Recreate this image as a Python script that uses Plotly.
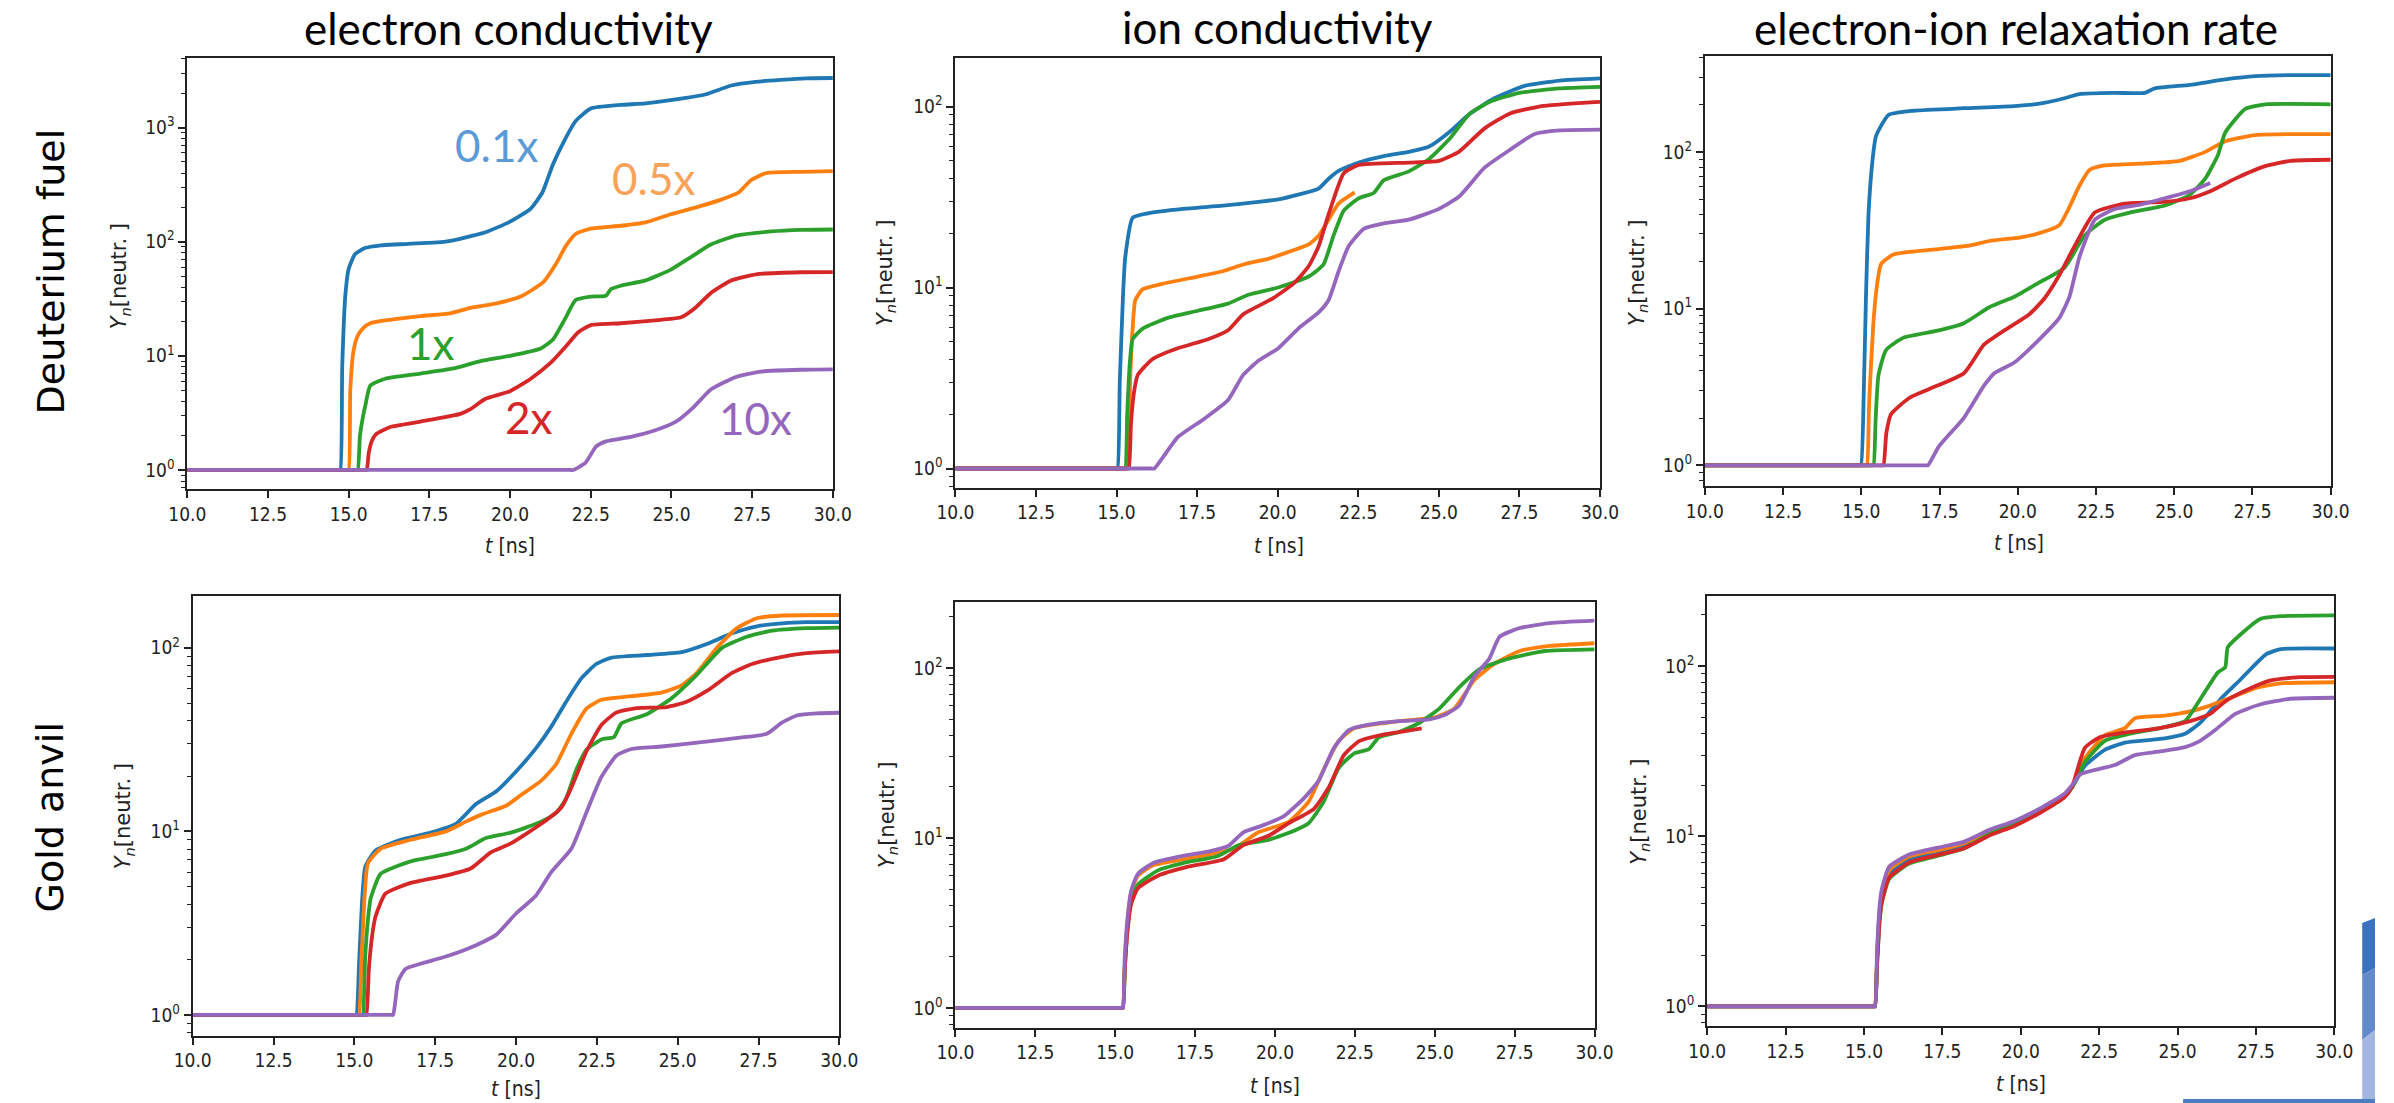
import math
import plotly.graph_objects as go

W, H = 2394, 1103

# ---------------- data ----------------
SERIES_NAMES = ["0.1x", "0.5x", "1x", "2x", "10x"]
COLORS = ["#1f77b4", "#ff7f0e", "#2ca02c", "#d62728", "#9467bd"]
COL_TITLES = ["electron conductivity", "ion conductivity", "electron-ion relaxation rate"]
ROW_TITLES = ["Deuterium fuel", "Gold anvil"]
X_TICKS = [10.0, 12.5, 15.0, 17.5, 20.0, 22.5, 25.0, 27.5, 30.0]
X_TICK_TEXT = ["10.0", "12.5", "15.0", "17.5", "20.0", "22.5", "25.0", "27.5", "30.0"]

# Panel 1: electron conductivity, Deuterium fuel
t_ecd_01 = [10, 14.69, 14.74, 14.8, 14.9, 15.0, 15.2, 15.5, 16.0, 16.6, 18.0, 19.24, 20.0, 20.64, 21.0, 21.33, 21.65, 22.03, 22.5, 23.43, 24.2, 25.45, 26.07, 26.85, 27.6, 29.15, 30]
y_ecd_01 = [1, 1, 1, 8, 35, 58, 78, 88, 93, 95, 100, 121, 150, 195, 270, 478, 740, 1140, 1470, 1580, 1630, 1820, 1960, 2340, 2520, 2700, 2720]
t_ecd_05 = [10, 14.95, 15.0, 15.05, 15.15, 15.28, 15.45, 15.67, 16.29, 17.22, 18.15, 18.77, 19.55, 20.33, 21.03, 21.41, 21.72, 22.03, 22.5, 23.43, 24.2, 24.98, 25.76, 26.54, 27.08, 27.47, 27.94, 29.0, 30]
y_ecd_05 = [1, 1, 1, 5, 11, 15, 17.5, 19.3, 20.7, 22.3, 23.6, 26.3, 28.7, 33.1, 44.2, 63, 91, 117, 130, 138, 148, 174, 200, 234, 270, 347, 400, 410, 415]
t_ecd_1 = [10, 15.23, 15.28, 15.35, 15.45, 15.51, 15.67, 16.13, 17.22, 18.3, 19.08, 20.0, 20.95, 21.33, 21.72, 22.03, 22.5, 22.97, 23.12, 23.43, 24.2, 24.98, 25.6, 26.22, 27.0, 28.09, 29.0, 30]
y_ecd_1 = [1, 1, 1, 2, 3, 3.6, 5.5, 6.3, 7.0, 7.8, 9.0, 10, 11.6, 13.9, 21.5, 30.8, 33, 33.6, 38.3, 41.1, 45.8, 56.9, 73.3, 94.4, 113, 123, 127, 128]
t_ecd_2 = [10, 15.51, 15.56, 15.62, 15.72, 15.85, 16.29, 17.22, 18.46, 18.77, 19.24, 20.0, 20.64, 21.26, 21.72, 22.11, 22.5, 23.43, 24.67, 25.3, 25.76, 26.22, 26.85, 27.62, 29.0, 30]
y_ecd_2 = [1, 1, 1, 1.4, 1.8, 2.06, 2.38, 2.65, 3.1, 3.41, 4.2, 4.9, 6.3, 8.7, 12.0, 16.1, 18.6, 19.3, 20.7, 21.8, 26.7, 35.6, 45.8, 51.8, 54, 54.2]
t_ecd_10 = [10, 21.86, 21.96, 22.34, 22.66, 22.97, 23.74, 24.52, 25.14, 25.68, 26.22, 27.0, 27.78, 29.0, 30]
y_ecd_10 = [1, 1, 1, 1.16, 1.6, 1.78, 1.95, 2.24, 2.65, 3.54, 5.07, 6.53, 7.28, 7.55, 7.6]

# Panel 2: ion conductivity, Deuterium fuel
t_icd_01 = [10, 14.98, 15.03, 15.1, 15.2, 15.27, 15.5, 15.97, 17.06, 18.3, 19.4, 20.02, 20.64, 21.27, 21.58, 21.89, 22.51, 23.29, 24.07, 24.7, 25.32, 25.94, 26.72, 27.66, 28.75, 30]
y_icd_01 = [1, 1, 1, 3, 9, 14.7, 24.3, 25.7, 27.2, 28.3, 29.7, 30.7, 32.6, 35.2, 39.9, 44.1, 49, 53.2, 56.2, 60.1, 72.1, 90.5, 111, 130, 139, 143]
t_icd_05 = [10, 15.3, 15.35, 15.42, 15.5, 15.58, 15.81, 16.44, 17.53, 18.3, 18.93, 19.7, 20.33, 20.96, 21.27, 21.58, 21.89, 22.39]
y_icd_05 = [1, 1, 1, 3, 6, 8.5, 9.78, 10.5, 11.5, 12.3, 13.4, 14.4, 15.7, 17.3, 19.3, 23.7, 29.1, 33.5]
t_icd_1 = [10, 15.22, 15.27, 15.33, 15.42, 15.5, 15.81, 16.59, 17.53, 18.46, 19.09, 20.02, 20.96, 21.42, 21.73, 22.05, 22.51, 22.98, 23.29, 24.07, 24.7, 25.32, 25.94, 26.57, 27.5, 28.75, 30]
y_icd_1 = [1, 1, 1, 2, 4, 5.18, 5.93, 6.8, 7.44, 8.15, 9.12, 10, 11.5, 13.4, 19.3, 26.6, 31.1, 33.3, 39.1, 43.8, 51.3, 65.9, 90.5, 106, 119, 126, 128.5]
t_icd_2 = [10, 15.33, 15.38, 15.45, 15.55, 15.66, 16.12, 16.9, 17.84, 18.46, 18.93, 19.86, 20.49, 20.96, 21.27, 21.58, 22.05, 22.51, 24.07, 25.0, 25.63, 26.41, 27.19, 28.12, 29.2, 30]
y_icd_2 = [1, 1, 1, 1.8, 2.7, 3.29, 4.03, 4.62, 5.18, 5.8, 7.11, 8.73, 10.5, 13.1, 16.9, 25.4, 42.8, 47.5, 49, 50.1, 56.3, 75.5, 91.3, 100, 104, 106]
t_icd_10 = [10, 16.07, 16.17, 16.9, 17.68, 18.46, 18.93, 19.4, 20.02, 20.64, 21.27, 21.58, 21.89, 22.2, 22.67, 23.29, 24.07, 25.0, 25.63, 26.41, 27.19, 27.97, 28.75, 30]
y_icd_10 = [1, 1, 1, 1.49, 1.86, 2.39, 3.29, 3.94, 4.62, 5.93, 7.28, 8.53, 12.3, 16.9, 21.1, 22.6, 23.7, 27.2, 31.8, 45.8, 57.4, 70.5, 73.8, 74.5]

# Panel 3: electron-ion relaxation rate, Deuterium fuel
t_erd_01 = [10, 14.94, 14.99, 15.08, 15.15, 15.23, 15.35, 15.47, 15.87, 16.68, 18.28, 19.89, 20.69, 21.49, 21.97, 23.1, 24.06, 24.38, 25.5, 26.63, 27.59, 28.72, 30]
y_erd_01 = [1, 1, 1, 3, 12, 39.9, 85, 126, 172, 183, 190, 196, 203, 220, 234, 238, 238, 254, 268, 290, 304, 309, 309]
t_erd_05 = [10, 15.13, 15.18, 15.25, 15.39, 15.5, 15.63, 16.04, 17.48, 18.44, 19.09, 20.05, 20.69, 21.33, 21.65, 21.97, 22.3, 22.78, 23.9, 25.18, 25.99, 26.63, 27.59, 30]
y_erd_05 = [1, 1, 1, 2.5, 8.28, 14, 19.2, 22.2, 24, 25.2, 27, 28.4, 30.3, 34.1, 44.4, 60.8, 76.9, 81.9, 84.1, 87.7, 100, 117, 128, 130]
t_erd_1 = [10, 15.34, 15.39, 15.46, 15.55, 15.79, 16.36, 17.48, 18.28, 19.09, 19.89, 20.69, 21.49, 22.13, 22.78, 23.58, 24.7, 25.5, 25.99, 26.39, 26.63, 27.27, 27.91, 30]
y_erd_1 = [1, 1, 1, 2, 3.77, 5.44, 6.54, 7.26, 8.07, 10.2, 11.9, 14.7, 18.2, 29.2, 36.9, 41, 45.5, 53.3, 67.5, 94.9, 133, 188, 201, 201]
t_erd_2 = [10, 15.66, 15.71, 15.8, 15.95, 16.52, 17.16, 18.28, 18.92, 19.57, 20.37, 20.85, 21.33, 21.81, 22.46, 23.42, 24.7, 25.5, 26.15, 26.95, 27.91, 28.72, 30]
y_erd_2 = [1, 1, 1, 1.6, 2.12, 2.68, 3.06, 3.87, 5.89, 7.26, 9.2, 11.6, 16.4, 24.9, 41, 46.8, 48, 50.6, 56.1, 67.5, 81.1, 87.7, 89.1]
t_erd_10 = [10, 17.03, 17.13, 17.48, 18.28, 18.92, 19.25, 19.89, 20.69, 21.33, 21.65, 21.97, 22.46, 23.1, 23.9, 24.7, 25.5, 26.15]
y_erd_10 = [1, 1, 1, 1.32, 2.01, 3.22, 3.87, 4.53, 6.37, 8.73, 11.9, 21.3, 36.9, 43.2, 46, 50.6, 56.1, 63.4]

# Panel 4: electron conductivity, Gold anvil
t_ecg_01 = [10, 15.01, 15.06, 15.15, 15.25, 15.34, 15.65, 16.43, 17.36, 18.14, 18.76, 19.38, 20.0, 20.62, 21.09, 21.55, 22.02, 22.48, 22.95, 24.04, 25.12, 25.9, 26.68, 27.45, 28.23, 29.0, 30]
y_ecg_01 = [1, 1, 1, 2, 4.5, 6.42, 7.86, 9.0, 9.84, 11.0, 14.1, 16.5, 21.2, 28.4, 37.2, 50.9, 68.2, 81.6, 88.5, 91.4, 94.8, 105, 120, 131, 136, 138, 138]
t_ecg_05 = [10, 15.09, 15.14, 15.22, 15.32, 15.42, 15.81, 16.74, 17.83, 18.45, 18.91, 19.69, 20.16, 20.78, 21.24, 21.71, 22.17, 22.64, 23.57, 24.5, 25.12, 25.59, 26.21, 26.83, 27.45, 28.23, 30]
y_ecg_05 = [1, 1, 1, 2, 4.5, 6.71, 8.04, 9.0, 10, 11.3, 12.3, 13.8, 15.8, 18.9, 23.2, 34, 46.5, 52.1, 54.5, 57, 62.4, 73, 100, 128, 145, 150, 151]
t_ecg_1 = [10, 15.21, 15.26, 15.33, 15.42, 15.5, 15.81, 16.74, 17.83, 18.45, 19.07, 19.84, 20.78, 21.24, 21.55, 21.86, 22.17, 22.64, 23.03, 23.26, 24.04, 24.81, 25.59, 26.37, 27.14, 27.92, 29.0, 30]
y_ecg_1 = [1, 1, 1, 2, 3.3, 4.28, 5.87, 6.87, 7.51, 8.04, 9.2, 9.84, 11.3, 12.6, 15.1, 21.6, 27.7, 31.7, 32.7, 38.8, 43.5, 53.2, 71.3, 100, 115, 124, 128, 129]
t_ecg_2 = [10, 15.32, 15.37, 15.45, 15.55, 15.65, 15.96, 16.74, 17.83, 18.6, 19.22, 19.84, 20.78, 21.4, 21.71, 22.17, 22.64, 23.11, 23.73, 24.66, 25.28, 25.9, 26.68, 27.3, 28.23, 28.98, 30]
y_ecg_2 = [1, 1, 1, 1.8, 2.7, 3.42, 4.58, 5.24, 5.74, 6.28, 7.69, 8.6, 11, 13.5, 17.3, 27.1, 38, 44.5, 47, 47.6, 50.9, 58.2, 73, 81.7, 89.4, 93.5, 95.6]
t_ecg_10 = [10, 16.15, 16.2, 16.27, 16.35, 16.58, 17.05, 17.83, 18.6, 19.38, 20.0, 20.62, 21.09, 21.71, 22.17, 22.64, 23.11, 23.57, 24.5, 25.74, 26.99, 27.76, 28.23, 28.7, 29.3, 30]
y_ecg_10 = [1, 1, 1, 1.2, 1.52, 1.78, 1.9, 2.08, 2.33, 2.73, 3.57, 4.48, 6.0, 8.04, 12.6, 19.8, 25.9, 28.1, 29, 30.6, 32.5, 34, 39.2, 42.9, 44, 44.3]

# Panel 5: ion conductivity, Gold anvil (0.1x curve not visible)
t_icg_05 = [10, 15.19, 15.24, 15.3, 15.39, 15.5, 15.71, 16.18, 17.12, 18.7, 19.48, 20.42, 21.05, 21.52, 21.99, 22.47, 23.41, 24.2, 24.98, 25.61, 26.24, 26.87, 27.66, 28.6, 30]
y_icg_05 = [1, 1, 1, 1.8, 3.3, 4.8, 6.0, 6.9, 7.47, 8.64, 10.8, 12.4, 16.3, 25.2, 37.2, 44.2, 47.5, 49.4, 51.1, 57.7, 85.1, 106, 126, 135, 140]
t_icg_1 = [10, 15.19, 15.24, 15.3, 15.39, 15.5, 15.71, 16.34, 17.12, 18.22, 18.85, 19.8, 20.58, 21.05, 21.52, 21.99, 22.47, 22.94, 23.25, 23.88, 24.51, 25.14, 25.77, 26.4, 27.34, 28.44, 30]
y_icg_1 = [1, 1, 1, 1.7, 3.0, 4.3, 5.31, 6.45, 7.11, 7.84, 9.07, 9.75, 11, 12.2, 16.3, 25.8, 31.4, 33.3, 39.1, 42, 47.5, 57.7, 77.3, 98.6, 114, 126, 129]
t_icg_2 = [10, 15.19, 15.24, 15.3, 15.39, 15.5, 15.71, 16.34, 17.28, 18.38, 19.01, 19.8, 20.42, 21.21, 21.68, 22.15, 22.63, 23.25, 23.88, 24.59]
y_icg_2 = [1, 1, 1, 1.7, 2.9, 4.1, 5.06, 6.0, 6.78, 7.47, 9.07, 10.3, 12.2, 14.8, 19.8, 30.6, 37.2, 40.1, 42, 44.2]
t_icg_10 = [10, 15.19, 15.24, 15.3, 15.39, 15.5, 15.71, 16.18, 17.12, 17.91, 18.54, 19.01, 19.64, 20.27, 20.9, 21.37, 21.84, 22.31, 22.94, 23.88, 24.83, 25.3, 25.77, 26.24, 26.71, 27.03, 27.66, 28.6, 30]
y_icg_10 = [1, 1, 1, 2, 3.43, 4.9, 6.15, 7.11, 7.84, 8.31, 8.99, 10.8, 11.9, 13.4, 17.1, 21.8, 33.8, 43.1, 46.4, 48.7, 49.9, 52.9, 60.5, 89.4, 114, 153, 172, 184, 190]

# Panel 6: electron-ion relaxation rate, Gold anvil
t_erg_01 = [10, 15.3, 15.35, 15.42, 15.5, 15.56, 15.8, 16.44, 17.4, 18.2, 19.0, 19.8, 20.6, 21.4, 21.64, 22.04, 22.68, 23.32, 24.44, 25.24, 25.72, 26.36, 27.0, 27.81, 28.29, 30]
y_erg_01 = [1, 1, 1, 2, 3.5, 4.3, 6.0, 7.3, 8.1, 8.9, 10.5, 11.9, 14.1, 17.6, 19.4, 25.9, 32.2, 35.5, 37.3, 40.1, 46.4, 63.7, 83.2, 117, 126, 127]
t_erg_05 = [10, 15.3, 15.35, 15.42, 15.5, 15.56, 15.8, 16.44, 17.4, 18.2, 19.0, 19.8, 20.6, 21.4, 21.64, 22.04, 22.68, 23.32, 23.64, 24.6, 25.4, 26.04, 26.69, 27.49, 28.29, 30]
y_erg_05 = [1, 1, 1, 2, 3.6, 4.5, 6.3, 7.6, 8.3, 9.1, 10.6, 11.9, 14.0, 17.4, 19.4, 28.6, 39.2, 43.2, 49.4, 51.2, 54.2, 58.6, 65.2, 74.3, 79.2, 80.4]
t_erg_1 = [10, 15.3, 15.35, 15.42, 15.5, 15.56, 15.8, 16.44, 17.4, 18.2, 19.0, 19.8, 20.6, 21.4, 21.64, 22.04, 22.68, 23.48, 24.44, 25.24, 25.72, 26.28, 26.52, 26.6, 27.0, 27.65, 28.29, 30]
y_erg_1 = [1, 1, 1, 1.8, 3.2, 4.0, 5.6, 6.9, 7.7, 8.5, 10.3, 11.9, 14.0, 17.4, 19.4, 27.2, 36.4, 40.1, 43.2, 47.5, 63.7, 91.6, 98.6, 129, 153, 190, 197, 199]
t_erg_2 = [10, 15.3, 15.35, 15.42, 15.5, 15.56, 15.8, 16.44, 17.4, 18.2, 19.0, 19.8, 20.6, 21.4, 21.64, 22.04, 22.52, 23.48, 24.44, 25.4, 26.04, 26.52, 27.17, 27.97, 28.93, 30]
y_erg_2 = [1, 1, 1, 1.8, 3.2, 4.0, 5.7, 7.0, 7.8, 8.5, 10.1, 11.5, 13.7, 17.0, 19.6, 33, 38.2, 41.1, 43.2, 47.5, 52.4, 62.1, 71.9, 82.4, 86.1, 86.5]
t_erg_10 = [10, 15.3, 15.35, 15.42, 15.5, 15.56, 15.8, 16.44, 17.4, 18.2, 19.0, 19.8, 20.6, 21.4, 21.64, 21.88, 22.2, 23.0, 23.64, 24.44, 25.24, 25.72, 26.2, 26.84, 27.65, 28.61, 30]
y_erg_10 = [1, 1, 1, 2.2, 3.9, 4.8, 6.6, 7.8, 8.6, 9.3, 10.9, 12.3, 14.5, 17.8, 20, 23, 24.1, 26.2, 30, 31.5, 33.4, 36.4, 42.1, 52.4, 59.7, 64.3, 65.2]

PANELS = [
    [(0, t_ecd_01, y_ecd_01), (1, t_ecd_05, y_ecd_05), (2, t_ecd_1, y_ecd_1), (3, t_ecd_2, y_ecd_2), (4, t_ecd_10, y_ecd_10)],
    [(0, t_icd_01, y_icd_01), (1, t_icd_05, y_icd_05), (2, t_icd_1, y_icd_1), (3, t_icd_2, y_icd_2), (4, t_icd_10, y_icd_10)],
    [(0, t_erd_01, y_erd_01), (1, t_erd_05, y_erd_05), (2, t_erd_1, y_erd_1), (3, t_erd_2, y_erd_2), (4, t_erd_10, y_erd_10)],
    [(0, t_ecg_01, y_ecg_01), (1, t_ecg_05, y_ecg_05), (2, t_ecg_1, y_ecg_1), (3, t_ecg_2, y_ecg_2), (4, t_ecg_10, y_ecg_10)],
    [(1, t_icg_05, y_icg_05), (2, t_icg_1, y_icg_1), (3, t_icg_2, y_icg_2), (4, t_icg_10, y_icg_10)],
    [(0, t_erg_01, y_erg_01), (1, t_erg_05, y_erg_05), (2, t_erg_1, y_erg_1), (3, t_erg_2, y_erg_2), (4, t_erg_10, y_erg_10)],
]

# ---------------- layout geometry (pixels) ----------------
BOXES = [  # left, right, top, bottom
    (171, 827, 58, 489),
    (951.5, 1606.5, 58, 487.5),
    (1713, 2349, 55.5, 485.7),
    (176.5, 833.6, 595.7, 1035.5),
    (951.5, 1601, 601.8, 1027.6),
    (1715.4, 2352.7, 596.4, 1026.4),
]
YRANGES = [(-0.167, 3.61), (-0.105, 2.268), (-0.13, 2.615), (-0.112, 2.284), (-0.116, 2.39), (-0.118, 2.41)]


def px(x):
    return x / W


def py(y):
    return 1 - y / H


TICK_FONT = dict(family="DejaVu Sans Condensed, Liberation Sans Narrow, DejaVu Sans", size=19, color="#222")
AXCOL = "#222"

fig = go.Figure()
for i, series in enumerate(PANELS):
    suffix = "" if i == 0 else str(i + 1)
    for si, t, y in series:
        fig.add_trace(go.Scatter(
            x=t, y=y, mode="lines", name=SERIES_NAMES[si], showlegend=False,
            line=dict(color=COLORS[si], width=3.8, shape="spline", smoothing=0.5),
            xaxis="x" + suffix, yaxis="y" + suffix,
        ))
    l, r, tp, b = BOXES[i]
    lo, hi = YRANGES[i]
    majors = [10 ** k for k in range(0, 5) if lo <= k <= hi]
    minors = [m * 10 ** k for k in range(-1, 4) for m in range(2, 10)]
    minors = [v for v in minors if lo <= math.log10(v) <= hi]
    fig.update_layout(**{
        "xaxis" + suffix: dict(
            domain=[px(l), px(r)], anchor="y" + suffix, range=[10, 30],
            tickmode="array", tickvals=X_TICKS, ticktext=X_TICK_TEXT,
            showgrid=False, zeroline=False, showline=True, mirror=True,
            linecolor=AXCOL, linewidth=2, ticks="outside", ticklen=7, tickwidth=1.5,
            tickcolor=AXCOL, tickfont=TICK_FONT,
        ),
        "yaxis" + suffix: dict(
            domain=[py(b), py(tp)], anchor="x" + suffix, type="log", range=[lo, hi],
            tickmode="array", tickvals=majors,
            ticktext=["10<sup>%d</sup>" % round(math.log10(v)) for v in majors],
            showgrid=False, zeroline=False, showline=True, mirror=True,
            linecolor=AXCOL, linewidth=2, ticks="outside", ticklen=7, tickwidth=1.5,
            tickcolor=AXCOL, tickfont=TICK_FONT,
            minor=dict(tickmode="array", tickvals=minors, ticks="outside", ticklen=4,
                       tickwidth=1.2, tickcolor=AXCOL, showgrid=False),
        ),
    })

annotations = []
# column titles
for text, cx, cy in zip(COL_TITLES, [497, 1279, 2029], [28, 27, 28]):
    annotations.append(dict(text=text, x=px(cx), y=py(cy), xref="paper", yref="paper",
                            showarrow=False, xanchor="center", yanchor="middle",
                            font=dict(family="Lato, Open Sans, sans-serif", size=44, color="#000")))
# row titles
for text, cx, cy in zip(ROW_TITLES, [33, 32], [271, 817]):
    annotations.append(dict(text=text, x=px(cx), y=py(cy), xref="paper", yref="paper",
                            showarrow=False, xanchor="center", yanchor="middle", textangle=-90,
                            font=dict(family="DejaVu Sans", size=38, color="#000")))
# axis titles
YT_POS = [(103, 276), (881, 273), (1645, 273), (107, 816), (883, 815), (1647, 812)]
XT_POS = [(499, 546), (1280, 546), (2032, 543), (505, 1089), (1276, 1086), (2034, 1084)]
for (yx, yy), (xx, xy) in zip(YT_POS, XT_POS):
    annotations.append(dict(text="<i>Y</i><sub><i>n</i></sub>[neutr. ]", x=px(yx), y=py(yy),
                            xref="paper", yref="paper", showarrow=False, textangle=-90,
                            xanchor="center", yanchor="middle",
                            font=dict(family="DejaVu Sans", size=21, color="#222")))
    annotations.append(dict(text="<i>t</i> [ns]", x=px(xx), y=py(xy), xref="paper", yref="paper",
                            showarrow=False, xanchor="center", yanchor="middle",
                            font=dict(family="DejaVu Sans Condensed, Liberation Sans Narrow, DejaVu Sans",
                                      size=21, color="#222")))
# series labels in first panel
LABEL_COLORS = ["#5b9bd5", "#f9a35a", "#2ca02c", "#d62728", "#9467bd"]
LABEL_POS = [(485, 145), (645, 178), (419, 343), (518, 417), (748, 418)]
for name, c, (lx, ly) in zip(SERIES_NAMES, LABEL_COLORS, LABEL_POS):
    annotations.append(dict(text=name, x=px(lx), y=py(ly), xref="paper", yref="paper",
                            showarrow=False, xanchor="center", yanchor="middle",
                            font=dict(family="Lato, Open Sans, sans-serif", size=44, color=c)))

# decorative slide corner
shapes = [
    dict(type="path", xref="paper", yref="paper",
         path="M %f %f L %f %f L %f %f L %f %f Z" % (px(2381), py(923), px(2394), py(918), px(2394), py(968), px(2381), py(975)),
         fillcolor="#3a72bf", line=dict(width=0)),
    dict(type="path", xref="paper", yref="paper",
         path="M %f %f L %f %f L %f %f L %f %f Z" % (px(2381), py(975), px(2394), py(968), px(2394), py(1030), px(2381), py(1040)),
         fillcolor="#6389cc", line=dict(width=0)),
    dict(type="path", xref="paper", yref="paper",
         path="M %f %f L %f %f L %f %f L %f %f Z" % (px(2381), py(1040), px(2394), py(1030), px(2394), py(1103), px(2381), py(1103)),
         fillcolor="#a3b6e0", line=dict(width=0)),
    dict(type="rect", xref="paper", yref="paper", x0=px(2199), x1=px(2394), y0=py(1103), y1=py(1099),
         fillcolor="#4a7cc4", line=dict(width=0)),
]

fig.update_layout(
    width=W, height=H, margin=dict(l=0, r=0, t=0, b=0),
    paper_bgcolor="white", plot_bgcolor="white",
    annotations=annotations, shapes=shapes, showlegend=False,
)
fig.write_html("out.html",
               post_script="document.documentElement.style.margin='0';document.body.style.margin='0';"
                           "document.body.style.overflow='hidden';")
